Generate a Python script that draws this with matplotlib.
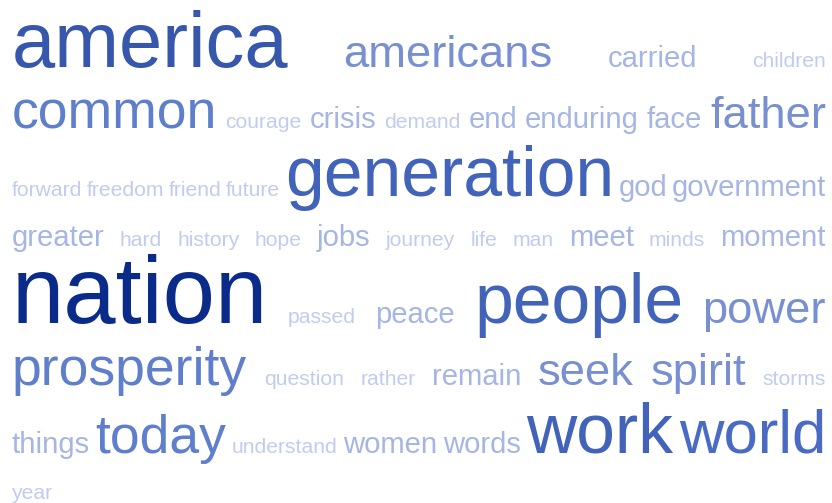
import matplotlib
matplotlib.use("Agg")
import matplotlib.pyplot as plt
from matplotlib.colors import LinearSegmentedColormap

# word counts for the tag cloud (alphabetical)
words = ["america", "americans", "carried", "children",
         "common", "courage", "crisis", "demand", "end", "enduring", "face", "father",
         "forward", "freedom", "friend", "future", "generation", "god", "government",
         "greater", "hard", "history", "hope", "jobs", "journey", "life", "man", "meet", "minds", "moment",
         "nation", "passed", "peace", "people", "power",
         "prosperity", "question", "rather", "remain", "seek", "spirit", "storms",
         "things", "today", "understand", "women", "words", "work", "world",
         "year"]
counts = [8, 4, 2, 1,
          5, 1, 2, 1, 2, 2, 2, 4,
          1, 1, 1, 1, 7, 2, 2,
          2, 1, 1, 1, 2, 1, 1, 1, 2, 1, 2,
          10, 1, 2, 7, 4,
          5, 1, 1, 2, 4, 4, 1,
          2, 5, 1, 2, 2, 7, 6,
          1]
# how many words go on each line
row_lengths = [4, 8, 7, 11, 5, 7, 7, 1]

W, H = 832, 503
left, right = 12, 826
space = 6

cmap = LinearSegmentedColormap.from_list("tags", [
    (0.0, "#c2ccee"), (0.111, "#a6b6e4"), (0.333, "#7890d2"), (0.444, "#5f7fcc"),
    (0.556, "#4a6bc4"), (0.667, "#4263ba"), (0.778, "#3757ac"), (1.0, "#0a2b8a")])
cmin, cmax = min(counts), max(counts)

fig = plt.figure(figsize=(W / 100, H / 100), dpi=100)
ax = fig.add_axes([0, 0, 1, 1])
ax.set_xlim(0, W)
ax.set_ylim(H, 0)
ax.axis("off")
r = fig.canvas.get_renderer()

# make the text objects and measure them
items = []
for w, c in zip(words, counts):
    px = 13 + 8.1 * c
    t = ax.text(0, 0, w, fontsize=px * 0.72, family="Liberation Sans",
                color=cmap((c - cmin) / (cmax - cmin)), ha="left", va="baseline")
    bb = t.get_window_extent(r)
    items.append((t, bb.width, px))

rows = []
k = 0
for n in row_lengths:
    rows.append(items[k:k + n])
    k += n

# place rows, justified except the last one
base = None
prev = 0
for i, row in enumerate(rows):
    big = max(it[2] for it in row)
    if base is None:
        base = 32 + 0.45 * big
    else:
        base = base + 33.4 + 0.45 * big + 0.05 * prev
    prev = big
    total = sum(it[1] for it in row)
    if i < len(rows) - 1 and len(row) > 1:
        gap = (right - left - total) / (len(row) - 1)
    else:
        gap = space
    x = left
    for t, wd, px in row:
        t.set_position((x, base))
        x += wd + gap

fig.savefig("out.png", dpi=100, facecolor="white")
